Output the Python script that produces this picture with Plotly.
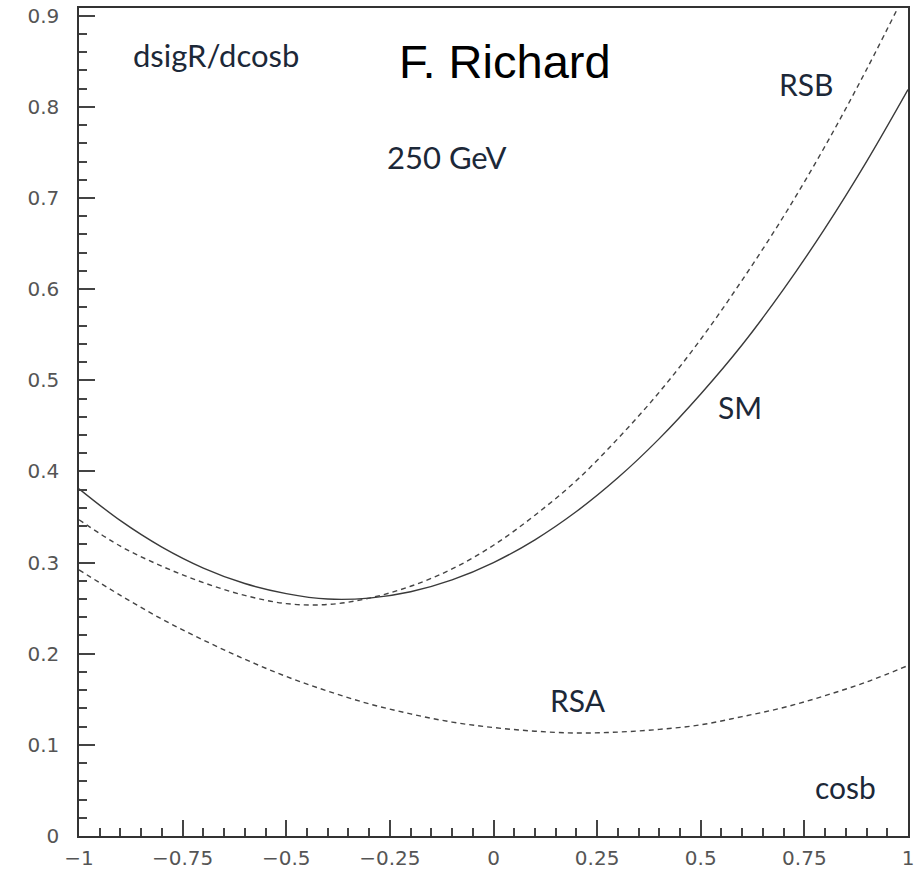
import plotly.graph_objects as go

# cos(theta_b) sample points
cosb = [-1.0, -0.9, -0.8, -0.7, -0.6, -0.5, -0.4, -0.3, -0.2, -0.1, 0.0,
        0.1, 0.2, 0.3, 0.4, 0.5, 0.6, 0.7, 0.8, 0.9, 1.0]

# dsigR/dcosb curves
sm = [0.381, 0.346, 0.317, 0.294, 0.277, 0.266, 0.260, 0.261, 0.268, 0.281, 0.300,
      0.325, 0.356, 0.393, 0.436, 0.485, 0.539, 0.600, 0.667, 0.740, 0.819]
rsb = [0.347, 0.318, 0.296, 0.278, 0.264, 0.255, 0.254, 0.261, 0.274, 0.293, 0.319,
       0.352, 0.390, 0.436, 0.487, 0.545, 0.610, 0.680, 0.757, 0.841, 0.931]
rsa = [0.292, 0.264, 0.238, 0.215, 0.194, 0.175, 0.159, 0.145, 0.134, 0.125, 0.119,
       0.115, 0.113, 0.114, 0.117, 0.122, 0.131, 0.141, 0.154, 0.169, 0.187]

x_tickvals = [-1, -0.75, -0.5, -0.25, 0, 0.25, 0.5, 0.75, 1]
x_ticktext = ["\u22121", "\u22120.75", "\u22120.5", "\u22120.25", "0", "0.25", "0.5", "0.75", "1"]
y_tickvals = [0, 0.1, 0.2, 0.3, 0.4, 0.5, 0.6, 0.7, 0.8, 0.9]
y_ticktext = ["0", "0.1", "0.2", "0.3", "0.4", "0.5", "0.6", "0.7", "0.8", "0.9"]

W, H = 917, 869
ML, MR, MT, MB = 79, 9, 8, 33
X0, X1 = -1.0, 1.0
Y0, Y1 = 0.0, 0.9085

def px2x(px):
    return X0 + (px - ML) / (W - ML - MR) * (X1 - X0)

def py2y(py):
    return Y1 - (py - MT) / (H - MT - MB) * (Y1 - Y0)

fig = go.Figure()
fig.add_trace(go.Scatter(x=cosb, y=sm, mode="lines", line=dict(color="#3a3a3a", width=1.4, shape="spline"), name="SM"))
fig.add_trace(go.Scatter(x=cosb, y=rsb, mode="lines", line=dict(color="#444444", width=1.4, dash="5px,4px", shape="spline"), name="RSB"))
fig.add_trace(go.Scatter(x=cosb, y=rsa, mode="lines", line=dict(color="#444444", width=1.4, dash="5px,4px", shape="spline"), name="RSA"))

txt_color = "#1c2838"
labels = [
    ("dsigR/dcosb", 131, 55, "left", "Lato", 31, txt_color),
    ("F. Richard", 397, 61, "left", "Liberation Sans", 47, "#000000"),
    ("250 GeV", 385, 157, "left", "Lato", 31, txt_color),
    ("RSB", 806, 84, "center", "Lato", 30, txt_color),
    ("SM", 740, 407, "center", "Lato", 30, txt_color),
    ("RSA", 578, 700, "center", "Lato", 30, txt_color),
    ("cosb", 845, 787, "center", "Lato", 30, txt_color),
]
for t, px, py, anc, fam, size, col in labels:
    fig.add_annotation(x=px2x(px), y=py2y(py), xref="x", yref="y", text=t, showarrow=False,
                       xanchor=anc, yanchor="middle", font=dict(family=fam, size=size, color=col))

axis_common = dict(showgrid=False, zeroline=False, showline=True, linecolor="#333333", linewidth=1.5,
                   mirror=True, ticks="inside", ticklen=16, tickwidth=1.5, tickcolor="#444444",
                   tickfont=dict(family="DejaVu Sans", size=20, color="#555555"))
fig.update_xaxes(range=[X0, X1], tickmode="array", tickvals=x_tickvals, ticktext=x_ticktext,
                 minor=dict(ticks="inside", ticklen=8, tickwidth=1.5, tickcolor="#444444", dtick=0.05, tick0=0),
                 ticklabelstandoff=3, **axis_common)
fig.update_yaxes(range=[Y0, Y1], tickmode="array", tickvals=y_tickvals, ticktext=y_ticktext,
                 minor=dict(ticks="inside", ticklen=8, tickwidth=1.5, tickcolor="#444444", dtick=0.02, tick0=0),
                 ticklabelstandoff=14, **axis_common)
fig.update_layout(width=W, height=H, margin=dict(l=ML, r=MR, t=MT, b=MB, autoexpand=False),
                  paper_bgcolor="white", plot_bgcolor="white", showlegend=False)
fig.write_html("out.html")
